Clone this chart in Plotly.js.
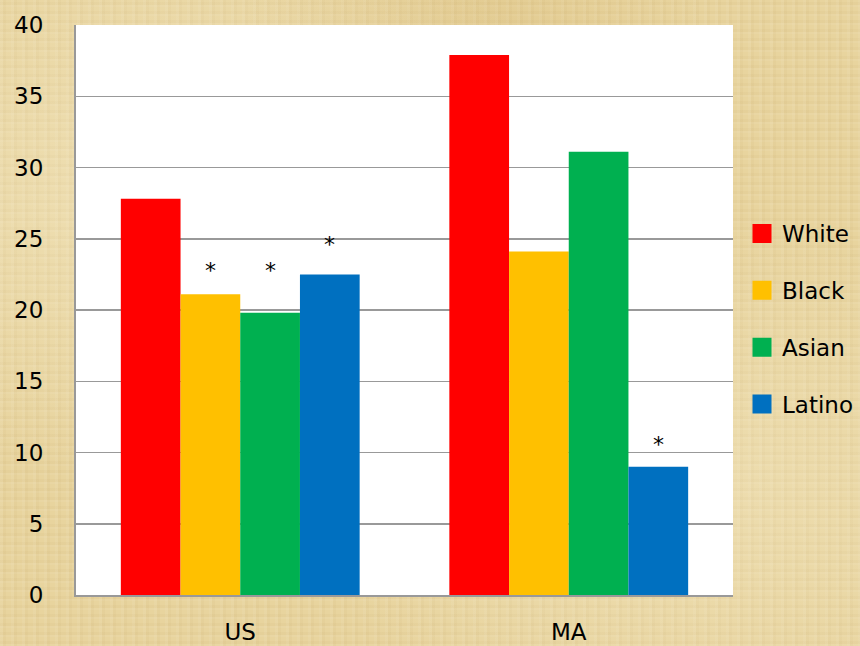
<!DOCTYPE html>
<html>
<head>
<meta charset="utf-8">
<script src="https://cdn.plot.ly/plotly-3.0.1.min.js"></script>
<style>
html, body { margin:0; padding:0; }
body {
  width:860px; height:646px; overflow:hidden;
  background-color:#e8d49e;
  background-image:
    radial-gradient(ellipse at 20% 30%, rgba(255,250,230,0.30), rgba(255,250,230,0) 45%),
    radial-gradient(ellipse at 80% 75%, rgba(255,250,230,0.25), rgba(255,250,230,0) 40%),
    radial-gradient(ellipse at 55% 10%, rgba(200,160,80,0.18), rgba(200,160,80,0) 35%),
    repeating-linear-gradient(90deg, rgba(255,255,255,0.06) 0 3px, rgba(150,110,40,0.04) 3px 6px, rgba(255,255,255,0) 6px 11px),
    repeating-linear-gradient(0deg, rgba(255,255,255,0.05) 0 2px, rgba(150,110,40,0.04) 2px 5px, rgba(255,255,255,0) 5px 9px);
}
#chart { width:860px; height:646px; }
</style>
</head>
<body>
<div id="chart"></div>
<script>
// ---- data ----
var categories = ['US', 'MA'];
var seriesNames = ['White', 'Black', 'Asian', 'Latino'];
var whiteVals  = [27.8, 37.9];
var blackVals  = [21.1, 24.1];
var asianVals  = [19.8, 31.1];
var latinoVals = [22.5, 9.0];
// asterisk (significance) marker heights, null = none
var whiteStars  = [null, null];
var blackStars  = [23.0, null];
var asianStars  = [23.0, null];
var latinoStars = [24.8, 10.8];
var yTicks = [0, 5, 10, 15, 20, 25, 30, 35, 40];

// ---- style ----
var colors = ['#FF0000', '#FFC000', '#00B050', '#0070C0'];
var seriesVals = [whiteVals, blackVals, asianVals, latinoVals];
var seriesStars = [whiteStars, blackStars, asianStars, latinoStars];
var BARGAP = 0.273;
var FONT = 'DejaVu Sans, Verdana, sans-serif';

var traces = [];
seriesNames.forEach(function (name, k) {
  traces.push({
    type: 'bar', name: name, x: categories, y: seriesVals[k],
    marker: { color: colors[k], line: { width: 0 } },
    showlegend: false, hoverinfo: 'x+y+name'
  });
});
// legend-only entries (bigger square swatches)
seriesNames.forEach(function (name, k) {
  traces.push({
    type: 'scatter', mode: 'markers', name: name, x: [null], y: [null],
    legendgroup: name,
    marker: { symbol: 'square', size: 16, color: colors[k], line: { width: 3, color: colors[k] } },
    showlegend: true, hoverinfo: 'skip'
  });
});

var annotations = [];
var groupW = 1 - BARGAP;
seriesStars.forEach(function (arr, k) {
  arr.forEach(function (v, i) {
    if (v === null) return;
    annotations.push({
      xref: 'x', yref: 'y',
      x: i + (k - 1.5) * groupW / seriesNames.length,
      y: v, text: '*', showarrow: false,
      yanchor: 'middle', xanchor: 'center', yshift: -3,
      font: { family: FONT, size: 22, color: '#000' }
    });
  });
});

var layout = {
  width: 860, height: 646,
  margin: { l: 76, r: 127, t: 25, b: 51, pad: 0, autoexpand: false },
  paper_bgcolor: 'rgba(0,0,0,0)',
  plot_bgcolor: '#ffffff',
  barmode: 'group', bargap: BARGAP, bargroupgap: 0,
  font: { family: FONT, size: 22, color: '#000' },
  xaxis: {
    type: 'category', showgrid: false, showline: true, linecolor: '#999999', linewidth: 2,
    ticks: '', tickfont: { family: FONT, size: 23, color: '#000' }, ticklabelstandoff: 15,
    zeroline: false, fixedrange: true, automargin: false
  },
  yaxis: {
    range: [0, 40], tickvals: yTicks, ticktext: yTicks.map(String),
    showgrid: true, gridcolor: '#999999', gridwidth: 1.5,
    showline: true, linecolor: '#999999', linewidth: 2,
    ticks: '', tickfont: { family: FONT, size: 23, color: '#000' }, ticklabelstandoff: 26,
    zeroline: false, fixedrange: true, automargin: false
  },
  legend: {
    x: 1.0137, xanchor: 'left', y: 0.672, yanchor: 'top',
    bgcolor: 'rgba(0,0,0,0)', borderwidth: 0,
    font: { family: FONT, size: 23, color: '#000' },
    traceorder: 'grouped', tracegroupgap: 24
  },
  annotations: annotations,
  showlegend: true
};

Plotly.newPlot('chart', traces, layout, { displayModeBar: false, staticPlot: true });
</script>
</body>
</html>
